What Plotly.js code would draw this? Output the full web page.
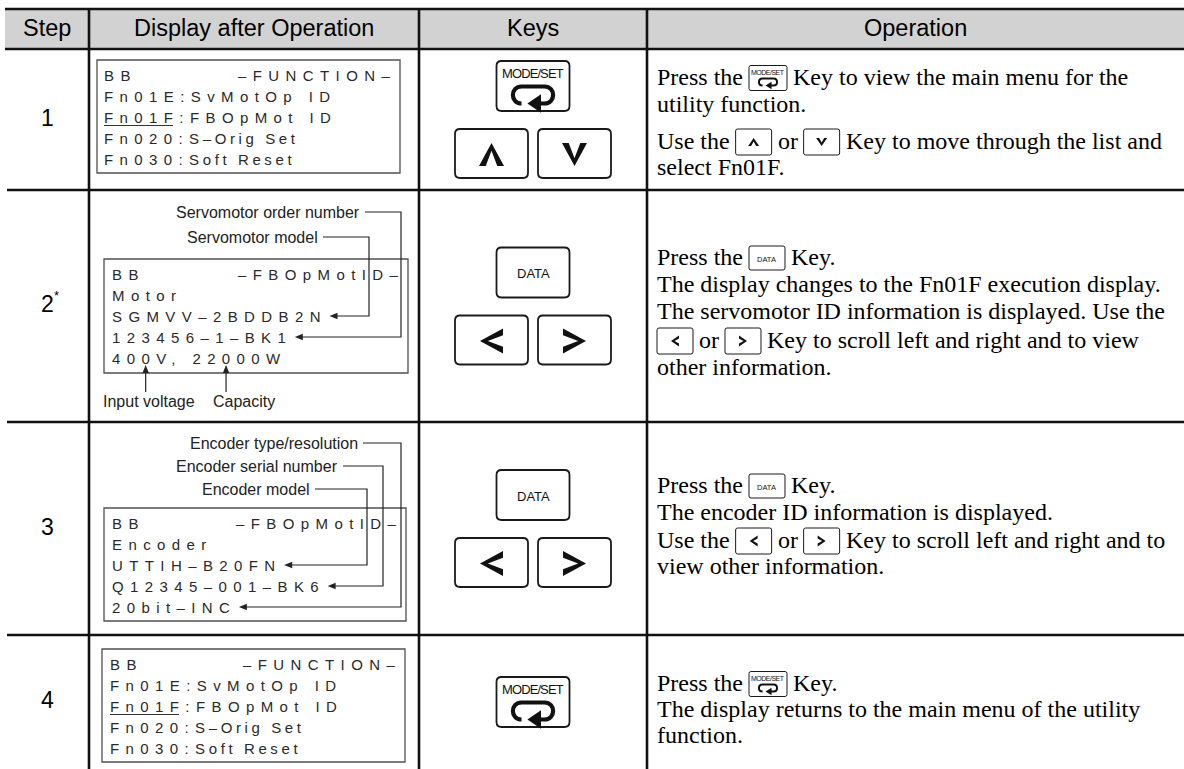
<!DOCTYPE html>
<html><head><meta charset="utf-8">
<script src="https://cdn.plot.ly/plotly-3.0.1.min.js"></script>
<style>html,body{margin:0;padding:0;background:#fff;}</style>
</head><body>
<div id="chart" style="width:1184px;height:769px"></div>
<script>
// ================= DATA =================
const headers = ["Step", "Display after Operation", "Keys", "Operation"];
const stepLabels = ["1", "2", "3", "4"];
const stepMarks = ["", "*", "", ""];
const lcdHeadLeft = ["BB", "BB", "BB", "BB"];
const lcdHeadRight = ["–FUNCTION–", "–FBOpMotID–", "–FBOpMotID–", "–FUNCTION–"];
const lcdStep1 = ["Fn01E:SvMotOp ID", "Fn01F:FBOpMot ID", "Fn020:S–Orig Set", "Fn030:Soft Reset"];
const lcdStep2 = ["Motor", "SGMVV–2BDDB2N", "123456–1–BK1", "400V, 22000W"];
const lcdStep3 = ["Encoder", "UTTIH–B20FN", "Q12345–001–BK6", "20bit–INC"];
const lcdStep4 = ["Fn01E:SvMotOp ID", "Fn01F:FBOpMot ID", "Fn020:S–Orig Set", "Fn030:Soft Reset"];
const selectedItem = "Fn01F";
const calloutsStep2 = ["Servomotor order number", "Servomotor model"];
const calloutTargets2 = [3, 2];
const bottomLabels2 = ["Input voltage", "Capacity"];
const bottomTargets2 = [2, 8];
const calloutsStep3 = ["Encoder type/resolution", "Encoder serial number", "Encoder model"];
const calloutTargets3 = [4, 3, 2];
const keysStep1 = [["MODE"], ["UP", "DOWN"]];
const keysStep2 = [["DATA"], ["LEFT", "RIGHT"]];
const keysStep3 = [["DATA"], ["LEFT", "RIGHT"]];
const keysStep4 = [["MODE"]];
const opStep1 = ["Press the {MODE} Key to view the main menu for the", "utility function.",
  "Use the {UP} or {DOWN} Key to move through the list and", "select Fn01F."];
const opStep2 = ["Press the {DATA} Key.", "The display changes to the Fn01F execution display.",
  "The servomotor ID information is displayed. Use the",
  "{LEFT} or {RIGHT} Key to scroll left and right and to view", "other information."];
const opStep3 = ["Press the {DATA} Key.", "The encoder ID information is displayed.",
  "Use the {LEFT} or {RIGHT} Key to scroll left and right and to", "view other information."];
const opStep4 = ["Press the {MODE} Key.", "The display returns to the main menu of the utility", "function."];

// ================= LAYOUT / STYLE =================
const W = 1184, H = 769;
const colX = [5, 89, 419, 647, 1184];
const rowY = [9, 49, 190, 422, 635, 769];
const lcdBox = [[97, 60, 400, 173], [104, 259, 408, 373], [104, 508, 406, 621], [102, 649, 405, 762]];
const lcdIndent = [7, 8, 8, 8];
const callout2 = {right: [360, 318], y: [212, 237], vx: [401, 369]};
const callout3 = {right: [358, 338, 310], y: [443, 466, 489], vx: [401, 383, 367]};
const bottom2 = {left: [103, 213], y: 401};
const opX = 657;
const opY = [[77, 104, 141, 167], [257, 284, 311, 340, 367], [485, 512, 540, 566], [683, 709, 735]];
const SANS = '"Liberation Sans", Arial, sans-serif';
const SERIF = '"Liberation Serif", "Times New Roman", serif';
const LCD_FS = 15, LS = 6.4, LS_TIGHT = 3.6;
const tightFrom = {"Fn020:S–Orig Set": 6, "Fn030:Soft Reset": 6};
const OP_FS = 24, HEAD_FS = 23.5, STEP_FS = 23;
const INK = '#111', LCDC = '#2a2a2a';

// ================= HELPERS =================
const cv = document.createElement('canvas').getContext('2d');
function tw(t, size, fam) { cv.font = size + 'px ' + fam; return cv.measureText(t).width; }
const shapes = [], ann = [];
const f2 = v => v.toFixed(2);
function line(x0, y0, x1, y1, w, c) { shapes.push({type: 'line', xref: 'x', yref: 'y', x0, y0, x1, y1, line: {width: w, color: c}}); }
function rect(x0, y0, x1, y1, fill, lw, lc) { shapes.push({type: 'rect', xref: 'x', yref: 'y', x0, y0, x1, y1, fillcolor: fill, line: {width: lw, color: lc}}); }
function path(d, fill, lw, lc) { shapes.push({type: 'path', xref: 'x', yref: 'y', path: d, fillcolor: fill || 'rgba(0,0,0,0)', line: {width: lw || 0, color: lc || 'rgba(0,0,0,0)'}}); }
function poly(pts, fill) { path('M' + pts.map(p => f2(p[0]) + ',' + f2(p[1])).join('L') + 'Z', fill, 0); }
function txt(x, y, text, size, fam, color, xa, ya) {
  ann.push({x, y, xref: 'x', yref: 'y', text, showarrow: false, xanchor: xa || 'left', yanchor: ya || 'middle',
    font: {size, family: fam, color: color || '#000'}, borderpad: 0, borderwidth: 0});
}
function rrect(x0, y0, x1, y1, r, lw, lc) {
  const d = `M${f2(x0 + r)},${f2(y0)}L${f2(x1 - r)},${f2(y0)}Q${f2(x1)},${f2(y0)} ${f2(x1)},${f2(y0 + r)}L${f2(x1)},${f2(y1 - r)}Q${f2(x1)},${f2(y1)} ${f2(x1 - r)},${f2(y1)}L${f2(x0 + r)},${f2(y1)}Q${f2(x0)},${f2(y1)} ${f2(x0)},${f2(y1 - r)}L${f2(x0)},${f2(y0 + r)}Q${f2(x0)},${f2(y0)} ${f2(x0 + r)},${f2(y0)}Z`;
  path(d, '#fff', lw, lc);
}
function chevron(cx, cy, w, h, t, dir) {
  const fo = t * 1.2, ai = t * 1.4;
  const pts = [[0, -h / 2], [w / 2, h / 2], [w / 2 - fo, h / 2], [0, -h / 2 + ai], [-w / 2 + fo, h / 2], [-w / 2, h / 2]];
  poly(pts.map(([u, v]) => dir === 'up' ? [cx + u, cy + v] : dir === 'down' ? [cx + u, cy - v] :
    dir === 'left' ? [cx + v, cy + u] : [cx - v, cy + u]), '#111');
}
function loopArrow(cx, cy, w, h, sw) {
  const L = cx - w / 2, R = cx + w / 2, r = h / 2, k = r * 1.35;
  const d = `M${f2(L + 0.66 * w)},${f2(cy + r)}L${f2(R - r)},${f2(cy + r)}C${f2(R - r + k)},${f2(cy + r)} ${f2(R - r + k)},${f2(cy - r)} ${f2(R - r)},${f2(cy - r)}L${f2(L + r)},${f2(cy - r)}C${f2(L + r - k)},${f2(cy - r)} ${f2(L + r - k)},${f2(cy + r)} ${f2(L + r)},${f2(cy + r)}L${f2(L + 0.2 * w)},${f2(cy + r)}`;
  path(d, null, sw, '#111');
  poly([[L + 0.36 * w, cy + r], [L + 0.7 * w, cy + r - h * 0.55], [L + 0.7 * w, cy + r + h * 0.55]], '#111');
}
const keySize = {MODE: [73, 50], DATA: [73, 50], UP: [73, 49], DOWN: [73, 49], LEFT: [73, 49], RIGHT: [73, 49]};
const miniSize = {MODE: [38, 25], DATA: [36, 24], UP: [36, 26], DOWN: [36, 26], LEFT: [36, 26], RIGHT: [36, 26]};
const dirOf = {UP: 'up', DOWN: 'down', LEFT: 'left', RIGHT: 'right'};
function drawKey(kind, x0, y0, mini) {
  const [w, h] = (mini ? miniSize : keySize)[kind];
  const cx = x0 + w / 2;
  rrect(x0, y0, x0 + w, y0 + h, mini ? 2 : 5, mini ? 1 : 1.8, '#1a1a1a');
  if (kind === 'MODE') {
    if (mini) {
      txt(cx, y0 + 7, '<span style="letter-spacing:-0.5px">MODE/SET</span>', 7, SANS, '#111', 'center');
      loopArrow(cx, y0 + 16.5, 18, 7, 2);
    } else {
      txt(cx, y0 + 12.5, '<span style="letter-spacing:-0.9px">MODE/SET</span>', 13, SANS, '#111', 'center');
      loopArrow(cx, y0 + 34, 40, 17, 4.2);
    }
  } else if (kind === 'DATA') {
    txt(cx, y0 + h / 2 + 1, 'DATA', mini ? 7.5 : 13, SANS, '#111', 'center');
  } else {
    if (mini) chevron(cx, y0 + h / 2, 11, 8, 2.5, dirOf[kind]);
    else chevron(cx, y0 + h / 2 + 1, 25, 23, 5.6, dirOf[kind]);
  }
  return w;
}
function lcdParts(t) {
  const k = tightFrom[t];
  return k === undefined ? [[t, LS]] : [[t.slice(0, k), LS], [t.slice(k), LS_TIGHT]];
}
function lcdMarkup(t) { return lcdParts(t).map(([s, ls]) => `<span style="letter-spacing:${ls}px">${s}</span>`).join(''); }
function lcdWidth(t) {
  let w = 0, last = 0;
  lcdParts(t).forEach(([s, ls]) => { w += tw(s, LCD_FS, SANS) + ls * s.length; last = ls; });
  return w - last;
}
function lcdCharCenter(t, i) { return tw(t.slice(0, i), LCD_FS, SANS) + LS * i + tw(t[i], LCD_FS, SANS) / 2; }
function arrowLeft(x, y) { poly([[x, y], [x + 8, y - 3.2], [x + 8, y + 3.2]], '#222'); }
function arrowUp(x, y) { poly([[x, y], [x - 3.2, y + 8], [x + 3.2, y + 8]], '#222'); }

// ================= TABLE FRAME =================
rect(colX[0], rowY[0], W, rowY[1], '#d2d2d2', 0, 'rgba(0,0,0,0)');
line(colX[0], rowY[0], W, rowY[0], 2.6, INK);
for (let i = 1; i < rowY.length - 1; i++) line(i === 1 ? colX[0] : 7, rowY[i], W, rowY[i], 2.6, INK);
for (let j = 1; j < colX.length - 1; j++) line(colX[j], rowY[0], colX[j], H, 2.6, INK);
headers.forEach((h, j) => txt((colX[j] + colX[j + 1]) / 2, 27.5, h, HEAD_FS, SANS, '#000', 'center'));

const lcds = [lcdStep1, lcdStep2, lcdStep3, lcdStep4];
const keysAll = [keysStep1, keysStep2, keysStep3, keysStep4];
const ops = [opStep1, opStep2, opStep3, opStep4];

for (let r = 0; r < 4; r++) {
  const top = rowY[r + 1], bot = rowY[r + 2], mid = (top + bot) / 2;
  // step number (+ footnote mark)
  txt(47, mid - 2, stepLabels[r], STEP_FS, SANS, '#000', 'center');
  if (stepMarks[r]) txt(47 + tw(stepLabels[r], STEP_FS, SANS) / 2 + 1, mid - 11, stepMarks[r], 13, SANS, '#000', 'left');
  // LCD
  const [bx0, by0, bx1, by1] = lcdBox[r];
  rect(bx0, by0, bx1, by1, 'rgba(0,0,0,0)', 1.3, '#505050');
  const tx = bx0 + lcdIndent[r];
  const ly = i => by0 + 15 + 21 * i;
  txt(tx, ly(0), lcdMarkup(lcdHeadLeft[r]), LCD_FS, SANS, LCDC);
  const hr = lcdHeadRight[r];
  txt(bx1 - 10 - lcdWidth(hr), ly(0), lcdMarkup(hr), LCD_FS, SANS, LCDC);
  lcds[r].forEach((t, i) => {
    txt(tx, ly(i + 1), lcdMarkup(t), LCD_FS, SANS, LCDC);
    if (t.startsWith(selectedItem) && (r === 0 || r === 3)) {
      line(tx, ly(i + 1) + 8.5, tx + lcdWidth(selectedItem), ly(i + 1) + 8.5, 1.2, '#333');
    }
  });
  // callouts
  const co = r === 1 ? {labels: calloutsStep2, tg: calloutTargets2, g: callout2} :
             r === 2 ? {labels: calloutsStep3, tg: calloutTargets3, g: callout3} : null;
  if (co) {
    co.labels.forEach((lab, k) => {
      const gy = co.g.y[k], vx = co.g.vx[k], ty = ly(co.tg[k]);
      const tipX = tx + lcdWidth(lcds[r][co.tg[k] - 1]) + 9;
      txt(co.g.right[k], gy, lab, 16, SANS, '#222', 'right');
      const d = `M${f2(co.g.right[k] + 5)},${f2(gy)}L${f2(vx)},${f2(gy)}L${f2(vx)},${f2(ty)}L${f2(tipX + 7)},${f2(ty)}`;
      path(d, null, 1.2, '#222');
      arrowLeft(tipX, ty);
    });
  }
  if (r === 1) {
    const last = lcds[1][3];
    bottomLabels2.forEach((lab, k) => {
      const ax = tx + lcdCharCenter(last, bottomTargets2[k]);
      line(ax, ly(4) + 13, ax, bottom2.y - 9, 1.2, '#222');
      arrowUp(ax, ly(4) + 7);
      txt(bottom2.left[k], bottom2.y, lab, 16, SANS, '#222');
    });
  }
  // keys
  const groups = keysAll[r];
  const gh = groups.map(g => keySize[g[0]][1]);
  const totalH = gh.reduce((a, b) => a + b, 0) + 18 * (groups.length - 1);
  let gy = mid - totalH / 2;
  const kc = (colX[2] + colX[3]) / 2;
  groups.forEach((g, gi) => {
    const totalW = g.reduce((a, k) => a + keySize[k][0], 0) + 10 * (g.length - 1);
    let gx = kc - totalW / 2;
    g.forEach(k => { gx += drawKey(k, gx, gy, false) + 10; });
    gy += gh[gi] + 18;
  });
  // operation text
  ops[r].forEach((ln, i) => {
    const y = opY[r][i];
    let x = opX;
    ln.split(/(\{[A-Z]+\})/).forEach(seg => {
      if (!seg) return;
      const m = seg.match(/^\{([A-Z]+)\}$/);
      if (m) {
        const [w, h] = miniSize[m[1]];
        drawKey(m[1], x, y - h / 2 + 1, true);
        x += w;
      } else {
        const lead = seg.length - seg.trimStart().length;
        const t = seg.trim();
        if (t) txt(x + tw(seg.slice(0, lead), OP_FS, SERIF), y, t, OP_FS, SERIF, '#000');
        x += tw(seg, OP_FS, SERIF);
      }
    });
  });
}

Plotly.newPlot('chart', [{x: [], y: [], type: 'scatter', mode: 'markers', hoverinfo: 'skip', showlegend: false}], {
  width: W, height: H, margin: {l: 0, r: 0, t: 0, b: 0, pad: 0},
  paper_bgcolor: '#fff', plot_bgcolor: '#fff', showlegend: false,
  xaxis: {range: [0, W], visible: false, fixedrange: true},
  yaxis: {range: [H, 0], visible: false, fixedrange: true},
  shapes, annotations: ann
}, {displayModeBar: false, staticPlot: true});
</script>
</body></html>
